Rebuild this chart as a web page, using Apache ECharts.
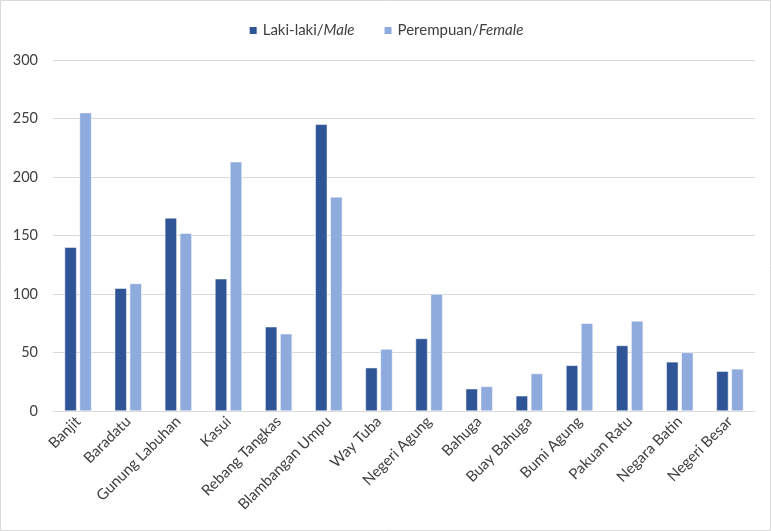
<!DOCTYPE html>
<html>
<head>
<meta charset="utf-8">
<script src="https://cdn.jsdelivr.net/npm/echarts@6/dist/echarts.min.js"></script>
<style>html,body{margin:0;padding:0;background:#fff}#c{width:771px;height:531px}</style>
</head>
<body>
<div id="c"></div>
<script>
const categories = ["Banjit","Baradatu","Gunung Labuhan","Kasui","Rebang Tangkas","Blambangan Umpu","Way Tuba","Negeri Agung","Bahuga","Buay Bahuga","Bumi Agung","Pakuan Ratu","Negara Batin","Negeri Besar"];
const male = [140,105,165,113,72,245,37,62,19,13,39,56,42,34];
const female = [255,109,152,213,66,183,53,100,21,32,75,77,50,36];
const yTicks = [0,50,100,150,200,250,300];

const font = "Lato, 'Open Sans', sans-serif";
const chart = echarts.init(document.getElementById('c'));
chart.setOption({
  animation: false,
  textStyle: {fontFamily: font},
  graphic: [{type:'rect', shape:{x:0.5,y:0.5,width:770,height:530}, style:{fill:'none', stroke:'#d9d9d9', lineWidth:1}, silent:true}],
  legend: {
    top: 18, left: 'center', itemWidth: 9, itemHeight: 9, itemGap: 28,
    icon: 'rect',
    textStyle: {fontFamily: font, fontSize: 15, color: '#404040',
      rich: {i: {fontStyle: 'italic', fontFamily: font, fontSize: 15, color: '#404040'}}},
    formatter: function(n){ const p = n.split('/'); return p[0] + '/{i|' + p[1] + '}'; },
    data: ['Laki-laki/Male','Perempuan/Female']
  },
  grid: {left: 53, right: 16, top: 60, bottom: 120, containLabel: false},
  xAxis: {
    type: 'category', data: categories,
    axisLine: {lineStyle: {color: '#d9d9d9'}},
    axisTick: {show: false},
    axisLabel: {rotate: 45, interval: 0, fontFamily: font, fontSize: 15, color: '#404040', margin: 8}
  },
  yAxis: {
    type: 'value', min: yTicks[0], max: yTicks[yTicks.length-1], interval: 50,
    axisLine: {show: false}, axisTick: {show: false},
    splitLine: {lineStyle: {color: '#d9d9d9'}},
    axisLabel: {fontFamily: font, fontSize: 14.5, color: '#404040', margin: 15}
  },
  series: [
    {name: 'Laki-laki/Male', type: 'bar', data: male, barWidth: 12, barGap: '25%',
     itemStyle: {color: '#2F5597', borderColor: '#fff', borderWidth: 0.5}},
    {name: 'Perempuan/Female', type: 'bar', data: female, barWidth: 12,
     itemStyle: {color: '#8FAADC', borderColor: '#fff', borderWidth: 0.5}}
  ]
});
</script>
</body>
</html>
